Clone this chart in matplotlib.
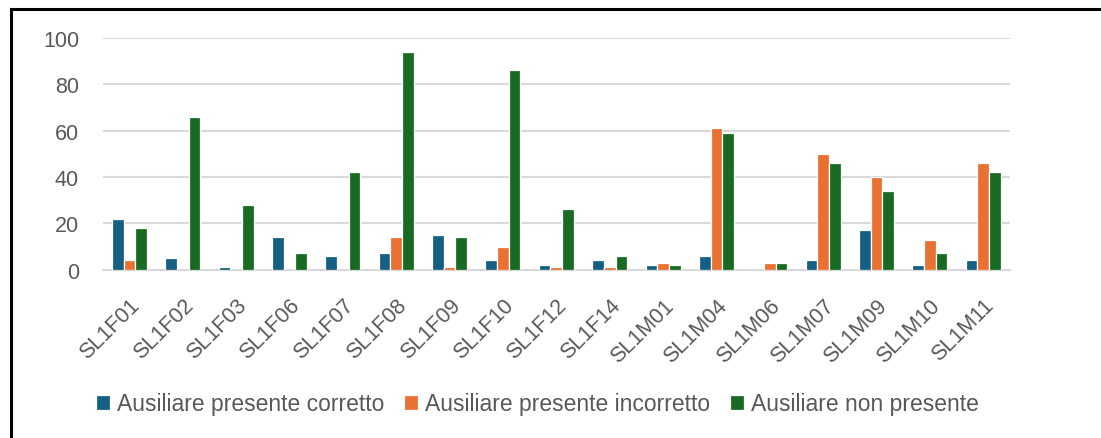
import matplotlib
matplotlib.use("Agg")
import matplotlib.pyplot as plt
import numpy as np
from matplotlib.patches import Rectangle

speakers = ["SL1F01", "SL1F02", "SL1F03", "SL1F06", "SL1F07", "SL1F08", "SL1F09",
            "SL1F10", "SL1F12", "SL1F14", "SL1M01", "SL1M04", "SL1M06", "SL1M07",
            "SL1M09", "SL1M10", "SL1M11"]
corretto = [22, 5, 1, 14, 6, 7, 15, 4, 2, 4, 2, 6, 0, 4, 17, 2, 4]
incorretto = [4, 0, 0, 0, 0, 14, 1, 10, 1, 1, 3, 61, 3, 50, 40, 13, 46]
non_presente = [18, 66, 28, 7, 42, 94, 14, 86, 26, 6, 2, 59, 3, 46, 34, 7, 42]
series_names = ["Ausiliare presente corretto", "Ausiliare presente incorretto",
                "Ausiliare non presente"]
colors = ["#156082", "#E97132", "#196B24"]

plt.rcParams["font.family"] = ["Liberation Sans", "DejaVu Sans"]

fig = plt.figure(figsize=(11.01, 4.39), dpi=100)
ax = fig.add_axes([0.0933, 0.3834, 0.8240, 0.5278])

x = np.arange(len(speakers))
slot = 0.219
for i, (vals, name, col) in enumerate(zip([corretto, incorretto, non_presente],
                                          series_names, colors)):
    ax.bar(x + (i - 1) * slot, vals, width=slot, color=col, edgecolor="white",
           linewidth=0.9, label=name, zorder=3)

ax.set_xlim(-0.5, len(speakers) - 0.5)
ax.set_ylim(0, 100)
ax.set_yticks(range(0, 101, 20))
ax.yaxis.grid(True, color="#D9D9D9", linewidth=1.5, zorder=0)
ax.set_axisbelow(True)
for side in ["top", "right", "left"]:
    ax.spines[side].set_visible(False)
ax.spines["bottom"].set_color("#D9D9D9")
ax.spines["bottom"].set_linewidth(1.5)

ax.tick_params(axis="both", length=0, labelsize=15.5, labelcolor="#595959")
ax.tick_params(axis="y", pad=17)
ax.set_xticks(x)
ax.set_xticklabels(speakers, rotation=45, ha="right", rotation_mode="anchor")
ax.tick_params(axis="x", pad=18)

leg = fig.legend(loc="center", bbox_to_anchor=(0.488, 0.0775), ncol=3, frameon=False,
                 fontsize=16.5, handlelength=0.62, handleheight=0.62,
                 handletextpad=0.3, columnspacing=0.85)
for t in leg.get_texts():
    t.set_color("#595959")

# outer frame
fig.add_artist(Rectangle((10.5 / 1101, -0.1), 1.2, 1.1 - 9.5 / 439,
                         transform=fig.transFigure, fill=False,
                         edgecolor="black", linewidth=2.2))

fig.savefig("out.png", dpi=100)
